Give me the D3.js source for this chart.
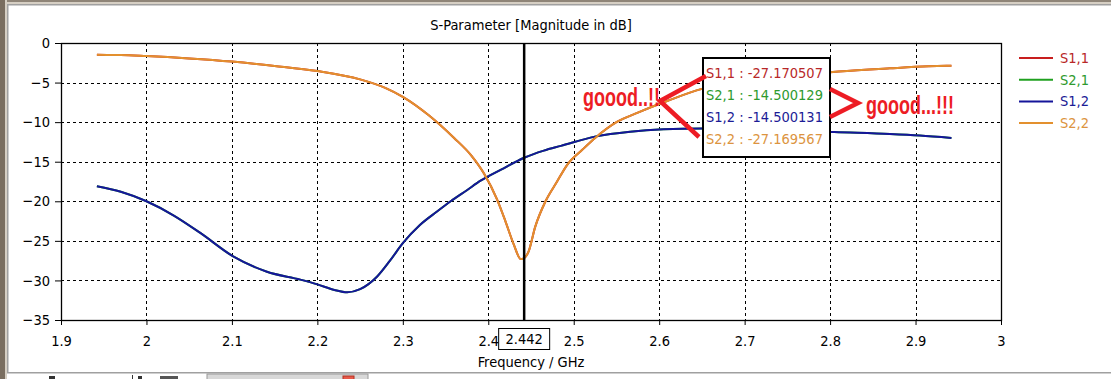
<!DOCTYPE html>
<meta charset="utf-8">
<html lang="en">
  <head>
    <style>
      body { margin: 0; background-color: #fff; }
      svg { display: block; }
      .tick text, .lbl {
        font: 14.5px "DejaVu Sans Condensed", "DejaVu Sans", sans-serif;
        fill: #000;
      }
      .grid {
        stroke: #000;
        stroke-width: 1px;
        stroke-dasharray: 3,3;
        shape-rendering: crispEdges;
      }
      .curve {
        fill: none;
        stroke-width: 2px;
      }
      .note {
        font: bold 18px "Liberation Sans", Arial, sans-serif;
        fill: #ed1c24;
      }
      .arrow {
        fill: none;
        stroke: #ed1c24;
        stroke-width: 4.5px;
      }
    </style>
  </head>

  <body>
    <script src="https://cdn.jsdelivr.net/npm/d3@7"></script>

    <svg></svg>

    <script>

      // S2,2 (and S1,1, which lies exactly under it)
      var freqS22 = [1.942, 1.97, 2.0, 2.05, 2.1, 2.15, 2.2, 2.25, 2.28, 2.30, 2.33, 2.36, 2.38,
                     2.395, 2.41, 2.42, 2.43, 2.438, 2.442, 2.447, 2.455, 2.467, 2.48, 2.493,
                     2.51, 2.525, 2.55, 2.575, 2.61, 2.65, 2.70, 2.75, 2.81, 2.87, 2.915, 2.942];
      var s22Db = [-1.50, -1.52, -1.65, -1.95, -2.35, -2.90, -3.55, -4.60, -5.70, -6.80, -9.10, -12.00, -14.20,
                   -16.50, -19.70, -22.50, -25.50, -27.30, -27.17, -26.40, -23.20, -20.00, -17.60, -15.30,
                   -13.50, -12.00, -10.00, -8.80, -7.30, -5.80, -4.90, -4.20, -3.60, -3.20, -2.95, -2.87];
      var s11Db = s22Db;

      // S1,2 (and S2,1, which lies exactly under it)
      var freqS12 = [1.942, 1.97, 2.0, 2.032, 2.063, 2.102, 2.141, 2.18, 2.20, 2.22, 2.235, 2.25, 2.27,
                     2.285, 2.30, 2.32, 2.34, 2.356, 2.375, 2.391, 2.415, 2.442, 2.465, 2.485, 2.526,
                     2.566, 2.605, 2.65, 2.70, 2.75, 2.805, 2.87, 2.905, 2.942];
      var s12Db = [-18.1, -18.8, -20.0, -21.8, -24.0, -27.0, -28.9, -29.9, -30.5, -31.2, -31.5, -31.1, -29.5,
                   -27.5, -25.3, -23.0, -21.3, -20.0, -18.6, -17.4, -16.0, -14.5, -13.6, -13.0, -11.8,
                   -11.2, -10.9, -10.8, -10.9, -11.0, -11.25, -11.5, -11.7, -12.0];
      var s21Db = s12Db;

      var xTicks = [1.9, 2, 2.1, 2.2, 2.3, 2.4, 2.5, 2.6, 2.7, 2.8, 2.9, 3];
      var yTicks = [0, -5, -10, -15, -20, -25, -30, -35];

      var seriesNames = ["S1,1", "S2,1", "S1,2", "S2,2"];
      var seriesColors = ["#c81e1e", "#20a020", "#15159a", "#e3902e"];
      var labelColors = ["#b82828", "#2e9a2e", "#1c1c96", "#dc9440"];

      var markerFreq = 2.442;
      var markerValues = ["-27.170507", "-14.500129", "-14.500131", "-27.169567"];

      var W = 1111, H = 379;
      var plotL = 61, plotR = 1001, plotT = 43, plotB = 320;

      var svg = d3.select("svg").attr("width", W).attr("height", H);

      // window frame
      svg.append("rect").attr("width", W).attr("height", H).attr("fill", "#fff");
      svg.append("rect").attr("x", 0).attr("y", 0).attr("width", W).attr("height", 2).attr("fill", "#8f8578");
      svg.append("rect").attr("x", 0).attr("y", 2).attr("width", W).attr("height", 2).attr("fill", "#d6cfc4");
      svg.append("rect").attr("x", 7).attr("y", 4).attr("width", W - 7).attr("height", 1.5).attr("fill", "#a0a0a0");
      svg.append("rect").attr("x", 0).attr("y", 0).attr("width", 5).attr("height", H).attr("fill", "#7a6e60");
      svg.append("rect").attr("x", 5).attr("y", 0).attr("width", 2).attr("height", H).attr("fill", "#d6cfc4");
      svg.append("rect").attr("x", 7).attr("y", 4).attr("width", 1.5).attr("height", 369).attr("fill", "#a0a0a0");
      svg.append("rect").attr("x", 7).attr("y", 372).attr("width", W - 7).attr("height", 1.5).attr("fill", "#a0a0a0");
      svg.append("rect").attr("x", 207).attr("y", 374).attr("width", 161).attr("height", 6)
        .attr("fill", "#d8d8d8").attr("stroke", "#9a9a9a");
      svg.append("rect").attr("x", 343).attr("y", 376).attr("width", 11).attr("height", 5)
        .attr("fill", "#e85a4a").attr("stroke", "#b03020");
      svg.append("rect").attr("x", 49).attr("y", 376).attr("width", 6).attr("height", 3).attr("fill", "#333");
      svg.append("rect").attr("x", 132).attr("y", 375).attr("width", 1).attr("height", 4).attr("fill", "#333");
      svg.append("rect").attr("x", 138).attr("y", 376).attr("width", 4).attr("height", 3).attr("fill", "#333");
      svg.append("rect").attr("x", 160).attr("y", 376).attr("width", 18).attr("height", 3).attr("fill", "#555");

      var x = d3.scaleLinear().domain([1.9, 3]).range([plotL, plotR]);
      var y = d3.scaleLinear().domain([-35, 0]).range([plotB, plotT]);

      // dashed grid
      svg.append("g").selectAll("line")
        .data(xTicks.slice(1, -1))
        .enter().append("line")
        .attr("class", "grid")
        .attr("x1", function(d) { return Math.round(x(d)) + 0.5; })
        .attr("x2", function(d) { return Math.round(x(d)) + 0.5; })
        .attr("y1", plotT).attr("y2", plotB);

      svg.append("g").selectAll("line")
        .data(yTicks.slice(1, -1))
        .enter().append("line")
        .attr("class", "grid")
        .attr("y1", function(d) { return Math.round(y(d)) + 0.5; })
        .attr("y2", function(d) { return Math.round(y(d)) + 0.5; })
        .attr("x1", plotL).attr("x2", plotR);

      // axes
      var xAxis = svg.append("g")
        .attr("transform", "translate(0," + plotB + ")")
        .call(d3.axisBottom(x).tickValues(xTicks).tickSize(5).tickPadding(11)
          .tickFormat(function(d) { return d3.format("")(+d.toFixed(1)); }));
      xAxis.select(".domain").remove();
      xAxis.selectAll(".tick line").attr("stroke", "#000");

      var yAxis = svg.append("g")
        .attr("transform", "translate(" + plotL + ",0)")
        .call(d3.axisLeft(y).tickValues(yTicks).tickSize(6).tickPadding(5));
      yAxis.select(".domain").remove();
      yAxis.selectAll(".tick line").attr("stroke", "#000");
      svg.selectAll(".tick text").attr("font-family", null).attr("font-size", null);

      // curves
      var line = d3.line()
        .x(function(d) { return x(d[0]); })
        .y(function(d) { return y(d[1]); })
        .curve(d3.curveMonotoneX);

      var traces = [
        { color: seriesColors[0], pts: d3.zip(freqS22, s11Db) },
        { color: seriesColors[1], pts: d3.zip(freqS12, s21Db) },
        { color: seriesColors[2], pts: d3.zip(freqS12, s12Db) },
        { color: seriesColors[3], pts: d3.zip(freqS22, s22Db) }
      ];

      svg.append("g").selectAll("path")
        .data(traces)
        .enter().append("path")
        .attr("class", "curve")
        .attr("stroke", function(d) { return d.color; })
        .attr("d", function(d) { return line(d.pts); });

      // frame
      svg.append("rect")
        .attr("x", plotL + 0.5).attr("y", plotT + 0.5)
        .attr("width", plotR - plotL).attr("height", plotB - plotT)
        .attr("fill", "none").attr("stroke", "#000").attr("stroke-width", 1.3);

      // marker
      svg.append("line")
        .attr("x1", x(markerFreq)).attr("x2", x(markerFreq))
        .attr("y1", plotT).attr("y2", plotB)
        .attr("stroke", "#000").attr("stroke-width", 2.5);

      svg.append("rect")
        .attr("x", x(markerFreq) - 25.5).attr("y", 328.5)
        .attr("width", 51).attr("height", 21)
        .attr("fill", "#fff").attr("stroke", "#000");
      svg.append("text").attr("class", "lbl")
        .attr("x", x(markerFreq)).attr("y", 344)
        .attr("text-anchor", "middle")
        .text(markerFreq);

      // titles
      svg.append("text").attr("class", "lbl")
        .attr("x", (plotL + plotR) / 2).attr("y", 30)
        .attr("text-anchor", "middle")
        .text("S-Parameter [Magnitude in dB]");
      svg.append("text").attr("class", "lbl")
        .attr("x", (plotL + plotR) / 2).attr("y", 367)
        .attr("text-anchor", "middle")
        .text("Frequency / GHz");

      // legend
      var legend = svg.append("g").selectAll("g")
        .data(seriesNames)
        .enter().append("g")
        .attr("transform", function(d, i) { return "translate(1019," + (58 + i * 21.7) + ")"; });
      legend.append("line")
        .attr("x1", 0).attr("x2", 34)
        .attr("stroke", function(d, i) { return seriesColors[i]; })
        .attr("stroke-width", 2);
      legend.append("text").attr("class", "lbl")
        .attr("x", 41).attr("y", 5)
        .style("fill", function(d, i) { return labelColors[i]; })
        .text(function(d) { return d; });

      // marker readout box
      svg.append("rect")
        .attr("x", 703).attr("y", 58)
        .attr("width", 127).attr("height", 99)
        .attr("fill", "#fff").attr("stroke", "#000").attr("stroke-width", 2);
      svg.append("g").selectAll("text")
        .data(seriesNames)
        .enter().append("text").attr("class", "lbl")
        .attr("x", 706)
        .attr("y", function(d, i) { return 78 + i * 22; })
        .style("fill", function(d, i) { return labelColors[i]; })
        .text(function(d, i) { return d + " : " + markerValues[i]; });

      // hand-drawn notes
      svg.append("path").attr("class", "arrow")
        .attr("d", "M706,76 L660,101 L699,137");
      svg.append("path").attr("class", "arrow")
        .attr("d", "M830,89 L858,103 L830,117");

      svg.append("text").attr("class", "note")
        .attr("transform", "translate(583,106) scale(1,1.38)")
        .text("goood..!!");
      svg.append("text").attr("class", "note")
        .attr("transform", "translate(866,114) scale(1,1.38)")
        .text("goood...!!!");

    </script>

  </body>
</html>
